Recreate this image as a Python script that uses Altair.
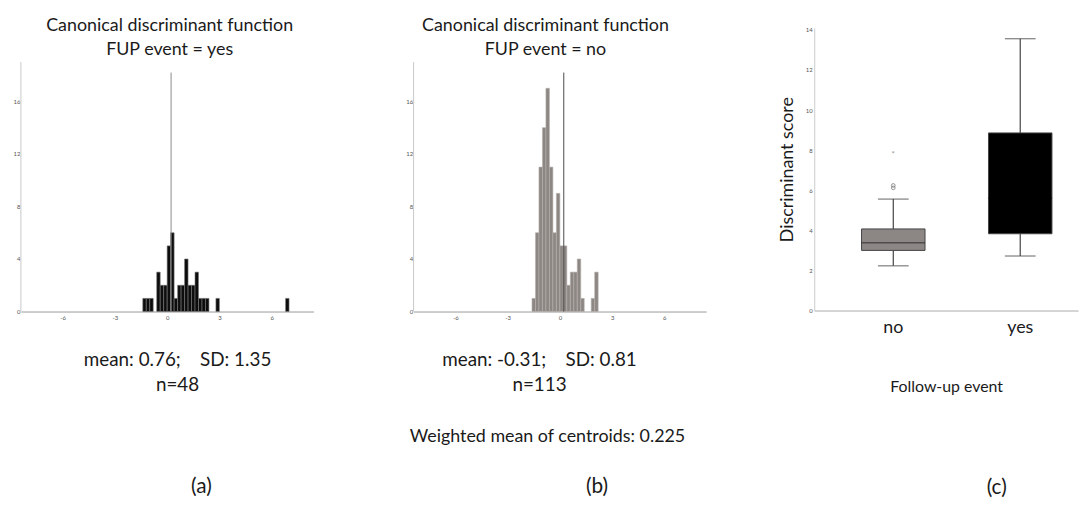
import altair as alt
import pandas as pd

FONT = "Lato"

# ---------------- data ----------------
bin_width = 0.2
a_bin_start = [-1.4, -1.2, -1.0, -0.6, -0.4, -0.2, 0.0, 0.2, 0.4, 0.6, 0.8, 1.0, 1.2, 1.4, 1.6, 1.8, 2.0, 2.2, 2.8, 6.8]
a_counts = [1, 1, 1, 3, 2, 2, 5, 6, 1, 2, 2, 4, 2, 2, 3, 1, 1, 1, 1, 1]
b_bin_start = [-1.6, -1.4, -1.2, -1.0, -0.8, -0.6, -0.4, -0.2, 0.0, 0.2, 0.4, 0.6, 0.8, 1.0, 1.2, 1.8, 2.0]
b_counts = [1, 6, 11, 14, 17, 11, 6, 9, 5, 5, 2, 3, 3, 4, 1, 1, 3]
centroid = 0.225
centroid_line_top = 18.2
hist_x_domain = [-8.4, 8.4]
hist_y_axis_top = 19

hist_x_ticks = [-6, -3, 0, 3, 6]
hist_y_ticks = [0, 4, 8, 12, 16]

box_groups = ["no", "yes"]
box_low = [2.23, 2.72]
box_q1 = [3.0, 3.83]
box_median = [3.38, 5.6]
box_q3 = [4.07, 8.86]
box_high = [5.56, 13.56]
outlier_group = ["no", "no"]
outlier_values = [6.12, 6.24]
extreme_group = ["no"]
extreme_values = [7.75]
box_y_ticks = [0, 2, 4, 6, 8, 10, 12, 14]

TEXT_COLOR = "#1a1a1a"
SP = "\u00a0"


def label_text(text, x, y, size=18):
    return alt.Chart(alt.Data(values=[{}])).mark_text(
        text=text, font=FONT, fontSize=size, color=TEXT_COLOR,
        align="center", baseline="middle"
    ).encode(x=alt.value(x), y=alt.value(y))


def hist_panel(starts, counts, fill, stroke, line_color, texts):
    df = pd.DataFrame({
        "start": starts,
        "end": [s + bin_width for s in starts],
        "count": counts,
        "base": [0] * len(starts),
    })
    x_enc = alt.X(
        "start:Q",
        scale=alt.Scale(domain=hist_x_domain, nice=False, zero=False),
        axis=alt.Axis(values=hist_x_ticks, title=None, grid=False, ticks=False,
                      labelFontSize=6, labelColor="#555", labelPadding=3,
                      labelFont=FONT, domainColor="#9a9a9a",
                      labelExpr="'' + datum.value"),
    )
    y_enc = alt.Y(
        "count:Q",
        scale=alt.Scale(domain=[0, 21.6], nice=False),
        axis=alt.Axis(values=hist_y_ticks, title=None, grid=False, ticks=False,
                      labelFontSize=6, labelColor="#555", labelPadding=1,
                      labelFont=FONT, domain=False),
    )
    bars = alt.Chart(df).mark_bar(fill=fill, stroke=stroke, strokeWidth=0.6).encode(
        x=x_enc, x2="end:Q", y=y_enc, y2="base:Q"
    )
    yaxis_df = pd.DataFrame({"start": [hist_x_domain[0]], "count": [0], "top": [hist_y_axis_top]})
    yaxis_line = alt.Chart(yaxis_df).mark_rule(color="#c8c8c8", strokeWidth=1).encode(
        x=x_enc, y=y_enc, y2="top:Q"
    )
    line_df = pd.DataFrame({"start": [centroid], "count": [0], "top": [centroid_line_top]})
    line = alt.Chart(line_df).mark_rule(color=line_color, strokeWidth=1).encode(
        x=x_enc, y=y_enc, y2="top:Q"
    )
    layers = [yaxis_line, bars, line] + [label_text(*t) for t in texts]
    return alt.layer(*layers).properties(width=295, height=286)


panel_a = hist_panel(
    a_bin_start, a_counts, "#0d0d0d", "#7a7a7a", "#8a8a8a",
    [("Canonical discriminant function", 150, -2, 18),
     ("FUP event = yes", 150, 22, 18),
     ("mean: 0.76; " + SP * 3 + "SD: 1.35", 158, 335, 19),
     ("n=48", 158, 360, 19),
     ("(a)", 182, 463, 21)],
)

panel_b = hist_panel(
    b_bin_start, b_counts, "#8d8784", "#b5b0ad", "#4a4a4a",
    [("Canonical discriminant function", 133, -2, 18),
     ("FUP event = no", 133, 22, 18),
     ("mean: -0.31; " + SP * 3 + "SD: 0.81", 127, 335, 19),
     ("n=113", 127, 360, 19),
     ("Weighted mean of centroids: 0.225", 135, 413, 18),
     ("(b)", 185, 463, 21)],
)

# ---------------- box plot panel ----------------
box_df = pd.DataFrame({
    "group": box_groups, "low": box_low, "q1": box_q1, "median": box_median,
    "q3": box_q3, "high": box_high,
})
out_df = pd.DataFrame({"group": outlier_group, "value": outlier_values})
ext_df = pd.DataFrame({"group": extreme_group, "value": extreme_values})

x_c = alt.X(
    "group:N",
    scale=alt.Scale(domain=box_groups, paddingInner=0.5, paddingOuter=0.289, align=0.645),
    axis=alt.Axis(title="Follow-up event", labelAngle=0, labelFontSize=18, labelFont=FONT,
                  labelColor=TEXT_COLOR, labelPadding=8, ticks=False, domainColor="#aaaaaa",
                  titleFont=FONT, titleFontSize=16, titleFontWeight="normal",
                  titleColor=TEXT_COLOR, titlePadding=43),
)
scale_y_c = alt.Scale(domain=[0, 14.1], nice=False)
axis_y_c = alt.Axis(values=box_y_ticks, title="Discriminant score", grid=False, ticks=False,
                    labelFontSize=6, labelColor="#555", labelPadding=2, labelFont=FONT,
                    domainColor="#cccccc", titleFont=FONT, titleFontSize=18,
                    titleFontWeight="normal", titleColor=TEXT_COLOR, titlePadding=9)


def y_c(field):
    return alt.Y(field, scale=scale_y_c, axis=axis_y_c)


fill_c = alt.Color("group:N", scale=alt.Scale(domain=box_groups, range=["#8c8785", "#000000"]),
                   legend=None)

whisk_lo = alt.Chart(box_df).mark_rule(color="#444", strokeWidth=1.2).encode(
    x=x_c, y=y_c("low:Q"), y2="q1:Q")
whisk_hi = alt.Chart(box_df).mark_rule(color="#444", strokeWidth=1.2).encode(
    x=x_c, y=y_c("q3:Q"), y2="high:Q")
cap_lo = alt.Chart(box_df).mark_tick(color="#444", size=31, thickness=1.2).encode(
    x=x_c, y=y_c("low:Q"))
cap_hi = alt.Chart(box_df).mark_tick(color="#444", size=31, thickness=1.2).encode(
    x=x_c, y=y_c("high:Q"))
boxes = alt.Chart(box_df).mark_bar(size=64, stroke="#444", strokeWidth=1).encode(
    x=x_c, y=y_c("q1:Q"), y2="q3:Q", color=fill_c)
medians = alt.Chart(box_df).mark_tick(size=64, thickness=1.5).encode(
    x=x_c, y=y_c("median:Q"),
    color=alt.condition("datum.group == 'yes'", alt.value("#000000"), alt.value("#333333")))
outliers = alt.Chart(out_df).mark_point(shape="circle", size=14, filled=False,
                                        color="#666", strokeWidth=1).encode(
    x=x_c, y=y_c("value:Q"))
extremes = alt.Chart(ext_df).mark_text(text="*", fontSize=8, color="#999", font=FONT).encode(
    x=x_c, y=y_c("value:Q"))

panel_c = alt.layer(
    whisk_lo, whisk_hi, cap_lo, cap_hi, boxes, medians, outliers, extremes,
    label_text("(c)", 184, 464, 21),
).properties(width=266, height=285)

chart = alt.hconcat(
    alt.hconcat(panel_a, panel_b, spacing=91),
    panel_c,
    spacing=71,
).properties(
    padding={"left": 4, "top": 6, "right": 0, "bottom": 0},
).configure_view(stroke="transparent")

chart.save("out.html", embed_options={"renderer": "svg", "actions": False})
